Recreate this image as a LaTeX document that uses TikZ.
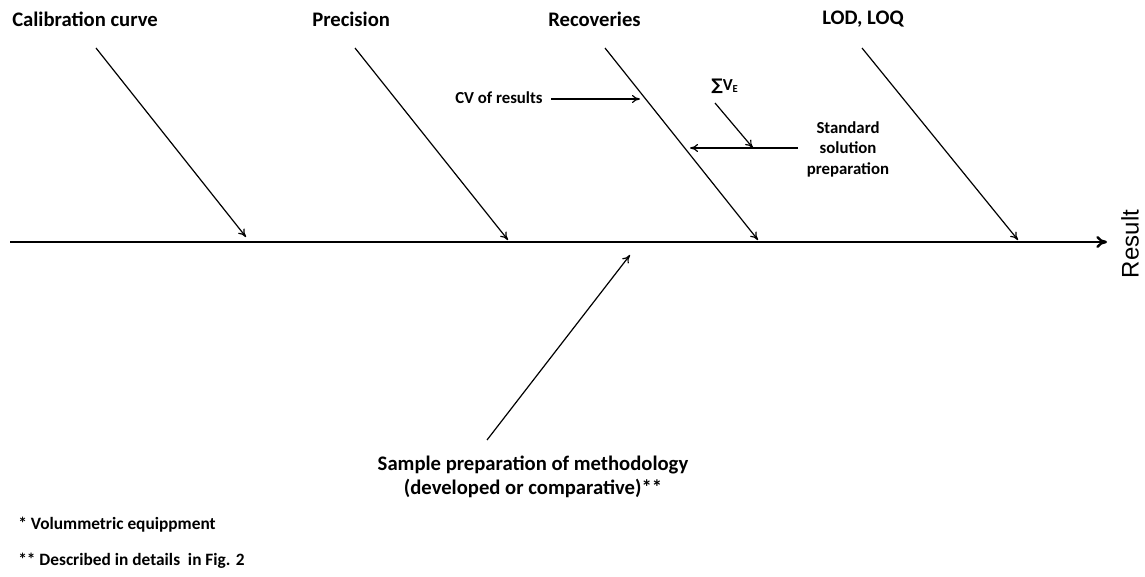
\documentclass[tikz,border=0pt]{standalone}
\usepackage{fontspec}
\setmainfont{Carlito}
\newfontfamily\arialfont{Liberation Sans}
\newfontfamily\djfont{DejaVu Sans}
\usetikzlibrary{arrows.meta}
\begin{document}
\begin{tikzpicture}[x=0.75pt,y=-0.75pt,
  head/.style={font=\bfseries\fontsize{15.5}{18.5}\selectfont, anchor=west, inner sep=0pt},
  small/.style={font=\bfseries\fontsize{12.6}{15.4}\selectfont, inner sep=0pt},
  foot/.style={font=\bfseries\fontsize{13}{15}\selectfont, anchor=west, inner sep=0pt},
  rib/.style={line width=0.9pt, -{To[length=6pt,width=6pt]}},
  spine/.style={line width=1.8pt, -{To[length=8pt,width=9pt]}}]
\useasboundingbox (0,0) rectangle (1145,577);
% spine
\coordinate (s0) at (10,242);
\coordinate (s1) at (1107,242);
\draw[spine] (s0) -- (s1);
\node[font=\arialfont\fontsize{18}{21}\selectfont, rotate=90, inner sep=0pt] (res) at (1130,244) {Result};
% headings
\node[head] (cal) at (12,19) {Calibration curve};
\node[head] (pre) at (312,19) {Precision};
\node[head] (rec) at (548,19) {Recoveries};
\node[head] (lod) at (822,19) {LOD, LOQ};
% rib coordinates
\coordinate (c0) at (96,48);  \coordinate (c1) at (246,237);
\coordinate (p0) at (355,48); \coordinate (p1) at (508,240);
\coordinate (r0) at (605,48); \coordinate (r1) at (758,240);
\coordinate (l0) at (862,48); \coordinate (l1) at (1018,240);
\draw[rib] (c0) -- (c1);
\draw[rib] (p0) -- (p1);
\draw[rib] (r0) -- (r1);
\draw[rib] (l0) -- (l1);
% sub causes
\node[small, anchor=west] (cv) at (455,98) {CV of results};
\coordinate (cvs) at (551,99);
\coordinate (cvend) at (640,99);
\draw[rib] (cvs) -- (cvend);
\node[small, anchor=west] (sv) at (711,86) {{\djfont\fontsize{12}{14}\selectfont ∑}V\textsubscript{\fontsize{8}{9}\selectfont E}};
\node[small, align=center] (std) at (848,149) {Standard\\solution\\preparation};
\coordinate (h0) at (798,148);
\coordinate (h1) at (690,148);
\coordinate (sv0) at (715,103);
\coordinate (sv1) at (753,148);
\draw[rib] (h0) -- (h1);
\draw[rib] (sv0) -- (sv1);
% bottom cause
\node[head, anchor=center, align=center] (samp) at (533,477) {Sample preparation of methodology\\(developed or comparative)**};
\coordinate (b0) at (487,440);
\coordinate (b1) at (630,255);
\draw[rib] (b0) -- (b1);
% footnotes
\node[foot] (f1) at (18,525) {* Volummetric equippment};
\node[foot] (f2) at (18,561) {** Described in details\ \ in Fig. 2};
\end{tikzpicture}
\end{document}
